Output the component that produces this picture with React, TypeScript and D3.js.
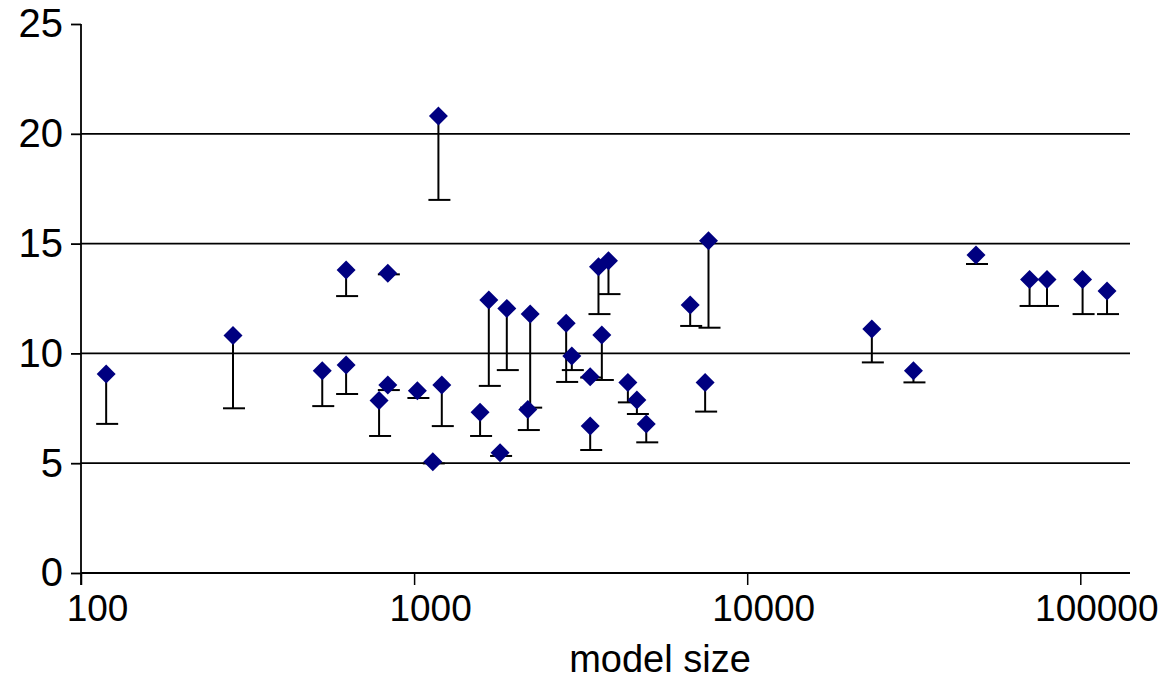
import React, { useEffect, useRef } from 'react';
import * as d3 from 'd3';

// model size (x), score (marker) and lower end of the error bar
const modelSize = [
  119, 286, 530, 625, 625, 785, 834, 834, 1023, 1138, 1183, 1211,
  1578, 1676, 1812, 1898, 2195, 2231, 2861, 2975, 3378, 3378, 3577,
  3661, 3833, 4383, 4665, 4977, 6743, 7477, 7653, 23670, 31560,
  48630, 70430, 79430, 101600, 120300,
];
const score = [
  9.06, 10.81, 9.21, 13.8, 9.47, 7.85, 13.65, 8.56, 8.3, 5.07, 20.81, 8.56,
  7.32, 12.43, 5.48, 12.05, 7.45, 11.79, 11.37, 9.88, 8.94, 6.69, 13.95,
  10.84, 14.22, 8.67, 7.88, 6.79, 12.2, 8.67, 15.13, 11.11, 9.21,
  14.48, 13.37, 13.37, 13.37, 12.84,
];
const lowerBound = [
  6.79, 7.5, 7.6, 12.61, 8.15, 6.24, 13.6, 8.33, 7.97, 4.99, 16.99, 6.69,
  6.24, 8.52, 5.33, 9.24, 6.51, 7.53, 8.7, 9.24, 8.9, 5.6, 11.79,
  8.79, 12.7, 7.77, 7.24, 5.95, 11.25, 7.35, 11.17, 9.59, 8.68,
  14.07, 12.16, 12.16, 11.79, 11.79,
];
const xTicks = [100, 1000, 10000, 100000];
const yTicks = [0, 5, 10, 15, 20, 25];
const gridValues = [5, 10, 15, 20];

const W = 1176;
const H = 684;

export default function App() {
  const ref = useRef<SVGSVGElement>(null);

  useEffect(() => {
    const svg = d3.select(ref.current);
    svg.selectAll('*').remove();

    const x = d3.scaleLog().domain([100, 141000]).range([81, 1130]);
    const y = d3.scaleLinear().domain([0, 25]).range([573, 24]);

    const font = '"Liberation Sans", Arial, sans-serif';

    // gridlines
    svg.append('g')
      .selectAll('line')
      .data(gridValues)
      .enter()
      .append('line')
      .attr('x1', x(100))
      .attr('x2', x(141000))
      .attr('y1', d => y(d))
      .attr('y2', d => y(d))
      .attr('stroke', '#000')
      .attr('stroke-width', 1.8);

    // y axis
    const yAxis = svg.append('g')
      .attr('transform', 'translate(' + x(100) + ',0)')
      .call(d3.axisLeft(y).tickValues(yTicks).tickSize(10).tickPadding(8));
    yAxis.select('.domain').attr('stroke-width', 1.8).attr('d', 'M0,' + y(25) + 'V585');
    yAxis.selectAll('.tick line').attr('stroke-width', 1.8);
    yAxis.selectAll('text')
      .attr('font-family', font)
      .attr('font-size', 40)
      .attr('fill', '#000');

    // x axis
    const xAxis = svg.append('g')
      .attr('transform', 'translate(0,' + y(0) + ')')
      .call(d3.axisBottom(x).tickValues(xTicks).tickFormat(d3.format('d')).tickSize(12).tickPadding(10));
    xAxis.select('.domain').attr('stroke-width', 1.8).attr('d', 'M' + x(100) + ',0H' + x(141000));
    xAxis.selectAll('.tick line').attr('stroke-width', 1.5);
    xAxis.selectAll('text')
      .attr('font-family', font)
      .attr('font-size', 37)
      .attr('fill', '#000')
      .attr('dx', 16);

    svg.append('text')
      .attr('x', 660)
      .attr('y', 672)
      .attr('text-anchor', 'middle')
      .attr('font-family', font)
      .attr('font-size', 38)
      .text('model size');

    const idx = d3.range(modelSize.length);

    // error bars (lower side only)
    const bars = svg.append('g').attr('stroke', '#000').attr('stroke-width', 2);
    bars.selectAll('.stem')
      .data(idx)
      .enter()
      .append('line')
      .attr('x1', i => x(modelSize[i]))
      .attr('x2', i => x(modelSize[i]))
      .attr('y1', i => y(score[i]))
      .attr('y2', i => y(lowerBound[i]));
    bars.selectAll('.cap')
      .data(idx)
      .enter()
      .append('line')
      .attr('x1', i => x(modelSize[i]) - 10)
      .attr('x2', i => x(modelSize[i]) + 12)
      .attr('y1', i => y(lowerBound[i]))
      .attr('y2', i => y(lowerBound[i]));

    // diamond markers
    const diamond = d3.symbol().type(d3.symbolDiamond2).size(230);
    svg.append('g')
      .selectAll('path')
      .data(idx)
      .enter()
      .append('path')
      .attr('d', diamond)
      .attr('transform', i => 'translate(' + x(modelSize[i]) + ',' + y(score[i]) + ')')
      .attr('fill', '#000080');
  }, []);

  return (
    <svg
      ref={ref}
      width={W}
      height={H}
      style={{ position: 'absolute', left: 0, top: 0, background: '#fff' }}
    />
  );
}
